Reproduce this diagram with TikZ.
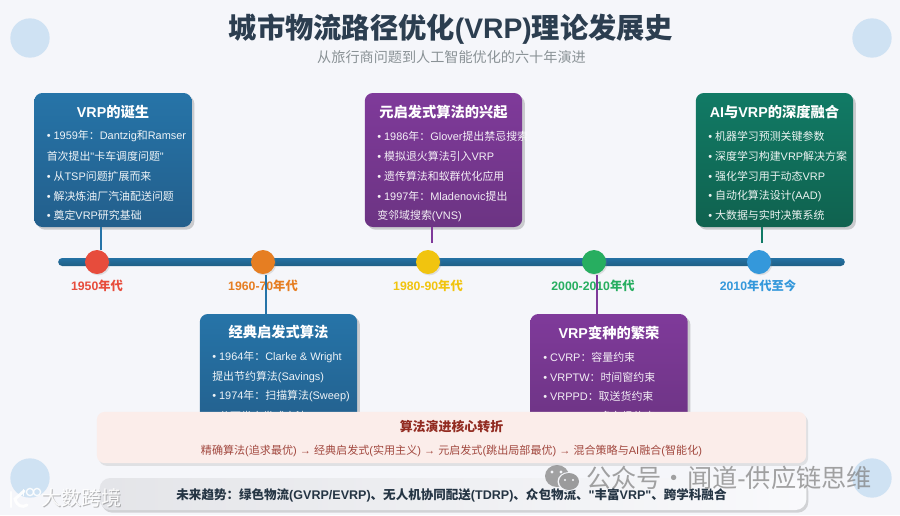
\documentclass[tikz,border=0pt]{standalone}
\usepackage{fontspec}
\setmainfont{Liberation Sans}
\newfontfamily\latf{Liberation Sans}
\newfontfamily\cjkf{Noto Sans CJK SC}
\XeTeXinterchartokenstate=1
\newXeTeXintercharclass\cjkclass
\newcount\cjkcnt
\def\setcjkrange#1#2{\cjkcnt=#1\relax
  \loop\XeTeXcharclass\cjkcnt=\cjkclass\relax
  \ifnum\cjkcnt<#2\advance\cjkcnt by 1\repeat}
\setcjkrange{"4E00}{"9FFF}
\setcjkrange{"3000}{"30FF}
\setcjkrange{"FF00}{"FFEF}
\XeTeXinterchartoks 0 \cjkclass = {\cjkf}
\XeTeXinterchartoks 4095 \cjkclass = {\cjkf}
\XeTeXinterchartoks \cjkclass 0 = {\latf}
\usetikzlibrary{shadows}
\definecolor{bgc}{HTML}{F5F6FA}
\definecolor{titlec}{HTML}{2C3E50}
\definecolor{subc}{HTML}{8A9296}
\definecolor{decoc}{HTML}{CFE2F3}
\definecolor{blueT}{HTML}{2674A8}
\definecolor{blueB}{HTML}{235F8C}
\definecolor{purT}{HTML}{7F3A9A}
\definecolor{purB}{HTML}{6C3483}
\definecolor{grnT}{HTML}{117A65}
\definecolor{grnB}{HTML}{10624F}
\definecolor{linec}{HTML}{2471A3}
\definecolor{linecd}{HTML}{1F5F85}
\definecolor{pinkc}{HTML}{FBEDEA}
\definecolor{redt}{HTML}{922B21}
\definecolor{dred}{HTML}{E74C3C}
\definecolor{dorg}{HTML}{E67E22}
\definecolor{dyel}{HTML}{F1C40F}
\definecolor{dgrn}{HTML}{27AE60}
\definecolor{dblu}{HTML}{3498DB}
\tikzset{
  x=0.75pt,y=-0.75pt,
  card/.style={minimum width=118pt,rounded corners=6pt,inner sep=0pt,draw=none,
    drop shadow={shadow xshift=2pt,shadow yshift=-2pt,opacity=.25,fill=black!70}},
  bluecard/.style={card,top color=blueT,bottom color=blueB},
  purcard/.style={card,top color=purT,bottom color=purB},
  grncard/.style={card,top color=grnT,bottom color=grnB},
  cardtitle/.style={text=white,font=\fontsize{10.7pt}{13pt}\selectfont\bfseries,inner sep=0pt},
  item/.style={text=white,opacity=.92,font=\fontsize{8.2pt}{10pt}\selectfont,anchor=west,inner sep=0pt},
  deco/.style={circle,fill=decoc,minimum size=29.5pt,inner sep=0pt},
  dot/.style={circle,minimum size=18pt,inner sep=0pt,drop shadow={shadow xshift=1pt,shadow yshift=-1pt,opacity=.2}},
  era/.style={font=\fontsize{9.2pt}{11pt}\selectfont\bfseries,inner sep=0pt},
  stem/.style={line width=1.6pt},
}
\begin{document}
\begin{tikzpicture}
\useasboundingbox (0,0) rectangle (900,515);
\fill[bgc] (0,0) rectangle (900,515);
% decorative circles
\node[deco] (d1) at (30,38) {};
\node[deco] (d2) at (872,38) {};
\node[deco] (d3) at (30,478) {};
\node[deco] (d4) at (872,478) {};
% title
\node[text=titlec,font=\fontsize{21.2pt}{25pt}\selectfont\bfseries,inner sep=0pt] (title) at (451,29) {城市物流路径优化(VRP)理论发展史};
\node[text=subc,font=\fontsize{10.6pt}{13pt}\selectfont,inner sep=0pt] (sub) at (451.5,57) {从旅行商问题到人工智能优化的六十年演进};
% timeline
\node[minimum width=590pt,minimum height=6pt,inner sep=0pt,rounded corners=3pt,bottom color=linecd,top color=linec] (axis) at (451.5,262) {};
% cards
\node[bluecard,minimum height=100.5pt] (c1) at (113,160) {};
\node[purcard,minimum height=100.5pt] (c3) at (443.5,160) {};
\node[grncard,minimum height=100.5pt] (c5) at (774.5,160) {};
\node[bluecard,minimum height=90pt] (c2) at (278.5,374) {};
\node[purcard,minimum height=90pt] (c4) at (609,374) {};
% stems
\coordinate (s1) at (101,250);
\coordinate (s2) at (266,275);
\coordinate (s3) at (432,243);
\coordinate (s4) at (597,275);
\coordinate (s5) at (762,243);
% dots
\node[dot,fill=dred] (t1) at (97,262) {};
\node[dot,fill=dorg] (t2) at (263,262) {};
\node[dot,fill=dyel] (t3) at (428,262) {};
\node[dot,fill=dgrn] (t4) at (594,262) {};
\node[dot,fill=dblu] (t5) at (759,262) {};
% era labels
\node[era,text=dred] (e1) at (97,285.5) {1950年代};
\node[era,text=dorg] (e2) at (263,285.5) {1960-70年代};
\node[era,text=dyel] (e3) at (428,285.5) {1980-90年代};
\node[era,text=dgrn] (e4) at (593,285.5) {2000-2010年代};
\node[era,text=dblu] (e5) at (758,285.5) {2010年代至今};
\draw[stem,blueT] (s1) -- (s1 |- c1.south);
\draw[stem,blueT] (s2) -- (s2 |- c2.north);
\draw[stem,purT] (s3) -- (s3 |- c3.south);
\draw[stem,purT] (s4) -- (s4 |- c4.north);
\draw[stem,grnT] (s5) -- (s5 |- c5.south);
% card 1
\node[cardtitle] (c1t) at (113,112) {VRP的诞生};
\node[item] (c1a) at (46.5,136.5) {• 1959年：Dantzig和Ramser};
\node[item] (c1b) at (46.5,156) {首次提出"卡车调度问题"};
\node[item] (c1c) at (46.5,176) {• 从TSP问题扩展而来};
\node[item] (c1d) at (46.5,196) {• 解决炼油厂汽油配送问题};
\node[item] (c1e) at (46.5,215.5) {• 奠定VRP研究基础};
% card 3
\node[cardtitle] (c3t) at (443.5,112) {元启发式算法的兴起};
\node[item] (c3a) at (377,136.5) {• 1986年：Glover提出禁忌搜索};
\node[item] (c3b) at (377,156) {• 模拟退火算法引入VRP};
\node[item] (c3c) at (377,176) {• 遗传算法和蚁群优化应用};
\node[item] (c3d) at (377,196) {• 1997年：Mladenovic提出};
\node[item] (c3e) at (377,215.5) {变邻域搜索(VNS)};
% card 5
\node[cardtitle] (c5t) at (774.5,112) {AI与VRP的深度融合};
\node[item] (c5a) at (708,136.5) {• 机器学习预测关键参数};
\node[item] (c5b) at (708,156) {• 深度学习构建VRP解决方案};
\node[item] (c5c) at (708,176) {• 强化学习用于动态VRP};
\node[item] (c5d) at (708,196) {• 自动化算法设计(AAD)};
\node[item] (c5e) at (708,215.5) {• 大数据与实时决策系统};
% card 2
\node[cardtitle] (c2t) at (278.5,332.5) {经典启发式算法};
\node[item] (c2a) at (212,357) {• 1964年：Clarke \& Wright};
\node[item] (c2b) at (212,377) {提出节约算法(Savings)};
\node[item] (c2c) at (212,396) {• 1974年：扫描算法(Sweep)};
\node[item] (c2d) at (212,416) {• 分两类启发式方法};
% card 4
\node[cardtitle] (c4t) at (609,332.5) {VRP变种的繁荣};
\node[item] (c4a) at (543,357) {• CVRP：容量约束};
\node[item] (c4b) at (543,377) {• VRPTW：时间窗约束};
\node[item] (c4c) at (543,396) {• VRPPD：取送货约束};
\node[item] (c4d) at (543,416) {• MDVRP：多车场约束};
% panels
\node[fill=pinkc,minimum width=532pt,minimum height=38.5pt,rounded corners=6pt,inner sep=0pt,
  drop shadow={shadow xshift=1.5pt,shadow yshift=-2pt,opacity=.18}] (p1) at (451.5,437.5) {};
\node[text=redt,font=\fontsize{9.7pt}{12pt}\selectfont\bfseries,inner sep=0pt] (p1t) at (451.5,427) {算法演进核心转折};
\node[text=redt,opacity=.85,font=\fontsize{8.3pt}{11pt}\selectfont,inner sep=0pt] (p1b) at (451.5,451) {精确算法(追求最优) → 经典启发式(实用主义) → 元启发式(跳出局部最优) → 混合策略与AI融合(智能化)};
\node[left color=black!7!bgc,right color=bgc!60!white,minimum width=530pt,minimum height=24pt,rounded corners=8pt,inner sep=0pt,
  drop shadow={shadow xshift=1.5pt,shadow yshift=-2pt,opacity=.3}] (p2) at (453,494) {};
\node[text=titlec!85!black,font=\fontsize{9.4pt}{12pt}\selectfont\bfseries,inner sep=0pt] (p2t) at (451.5,495) {未来趋势：绿色物流(GVRP/EVRP)、无人机协同配送(TDRP)、众包物流、"丰富VRP"、跨学科融合};
% watermark, lower left
\node[text=black!60,opacity=.45,font=\fontsize{15pt}{17pt}\selectfont,inner sep=0pt] (w1s) at (82,499) {大数跨境};
\node[text=white,font=\fontsize{15pt}{17pt}\selectfont,inner sep=0pt,opacity=.9] (w1) at (81,498) {大数跨境};
\begin{scope}[white,opacity=.9]
\draw[line width=2.2pt,line cap=round] (11,492) -- (11,507);
\draw[line width=2.2pt,line cap=round] (24,491) -- (15,499) .. controls (17,506) and (22,508) .. (27,505);
\draw[line width=1pt] (23.5,489) -- (23.5,496);
\draw[line width=1pt] (30,492) circle (3.6);
\draw[line width=1pt] (37,492) circle (3.6);
\end{scope}
% watermark, lower right
\fill[black!45,opacity=.8] (557,476) ellipse (12 and 11);
\fill[bgc] (569,481.5) ellipse (11.5 and 9.5);
\fill[black!45,opacity=.85] (569,481.5) ellipse (10 and 8.5);
\fill[bgc] (552,472) circle (1.6) (561,472) circle (1.6) (565,480) circle (1.2) (573,480) circle (1.2);
\node[text=black!50,opacity=.72,font=\fontsize{18.9pt}{21pt}\selectfont,inner sep=0pt,anchor=west] (w2) at (586,478) {公众号・闻道-供应链思维};
\end{tikzpicture}
\end{document}
